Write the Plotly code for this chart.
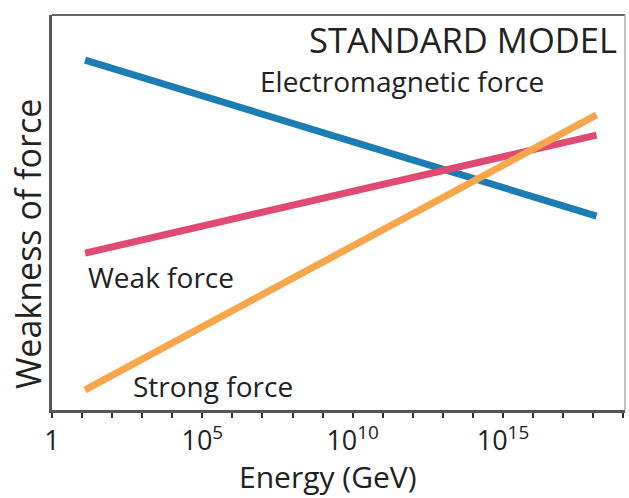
import plotly.graph_objects as go

# Data (energy in GeV, "weakness" on arbitrary scale 0-100)
energy = [12.6, 1.3e18]
em_force = [88.6, 49.1]
weak_force = [39.7, 69.6]
strong_force = [5.1, 74.7]

series_names = ["Electromagnetic force", "Weak force", "Strong force"]
colors = ["#1c7db5", "#e04a72", "#f7a64c"]

major_exps = [0, 5, 10, 15]
major_labels = ["1", "10<sup>5</sup>", "10<sup>10</sup>", "10<sup>15</sup>"]
minor_exps = list(range(0, 20))

FONT = "Open Sans"
TXT = "#222"

fig = go.Figure()
for name, vals, c in zip(series_names, [em_force, weak_force, strong_force], colors):
    fig.add_trace(go.Scatter(x=energy, y=vals, mode="lines", name=name,
                             line=dict(color=c, width=7), showlegend=False))

fig.update_layout(
    width=629, height=498,
    margin=dict(l=52, r=4, t=15, b=88, autoexpand=False),
    paper_bgcolor="white", plot_bgcolor="white",
    font=dict(family=FONT, color=TXT),
)
fig.update_xaxes(
    type="log", range=[0, 19.06],
    tickvals=[10**e for e in major_exps],
    ticktext=major_labels,
    ticks="outside", ticklen=5, tickwidth=2, tickcolor="#333",
    minor=dict(tickvals=[10**e for e in minor_exps], ticks="outside",
               ticklen=5, tickwidth=2, tickcolor="#333", showgrid=False),
    showline=True, linecolor="#555", linewidth=2.5,
    showgrid=False, zeroline=False, automargin=False,
    tickfont=dict(size=27, family=FONT, color=TXT),
)
fig.update_yaxes(
    range=[0, 100], showticklabels=False, ticks="",
    showline=True, linecolor="#555", linewidth=2.5,
    showgrid=False, zeroline=False, automargin=False,
)
# lighter box on top/right
fig.add_shape(type="line", xref="paper", yref="paper", x0=0, x1=1, y0=1, y1=1,
              line=dict(color="#666", width=2))
fig.add_shape(type="line", xref="paper", yref="paper", x0=1, x1=1, y0=0, y1=1,
              line=dict(color="#aaa", width=1.5))

# axis titles
fig.add_annotation(text="Energy (GeV)", xref="paper", yref="paper", x=0.482, y=-0.168,
                   xanchor="center", yanchor="middle", showarrow=False,
                   font=dict(size=30, family=FONT, color=TXT))
fig.add_annotation(text="Weakness of force", xref="paper", yref="paper", x=-0.042, y=0.42,
                   xanchor="center", yanchor="middle", showarrow=False, textangle=-90,
                   font=dict(size=34, family=FONT, color=TXT))

# in-plot labels
fig.add_annotation(text="STANDARD MODEL", xref="paper", yref="paper", x=0.99, y=0.937,
                   xanchor="right", yanchor="middle", showarrow=False,
                   font=dict(size=34.5, family=FONT, color=TXT))
fig.add_annotation(text="Electromagnetic force", xref="paper", yref="paper", x=0.36, y=0.833,
                   xanchor="left", yanchor="middle", showarrow=False,
                   font=dict(size=28, family=FONT, color=TXT))
fig.add_annotation(text="Weak force", xref="paper", yref="paper", x=0.06, y=0.337,
                   xanchor="left", yanchor="middle", showarrow=False,
                   font=dict(size=28, family=FONT, color=TXT))
fig.add_annotation(text="Strong force", xref="paper", yref="paper", x=0.138, y=0.061,
                   xanchor="left", yanchor="middle", showarrow=False,
                   font=dict(size=28, family=FONT, color=TXT))

fig.write_html("out.html", config={"displayModeBar": False},
               post_script="document.body.style.margin='0';")
